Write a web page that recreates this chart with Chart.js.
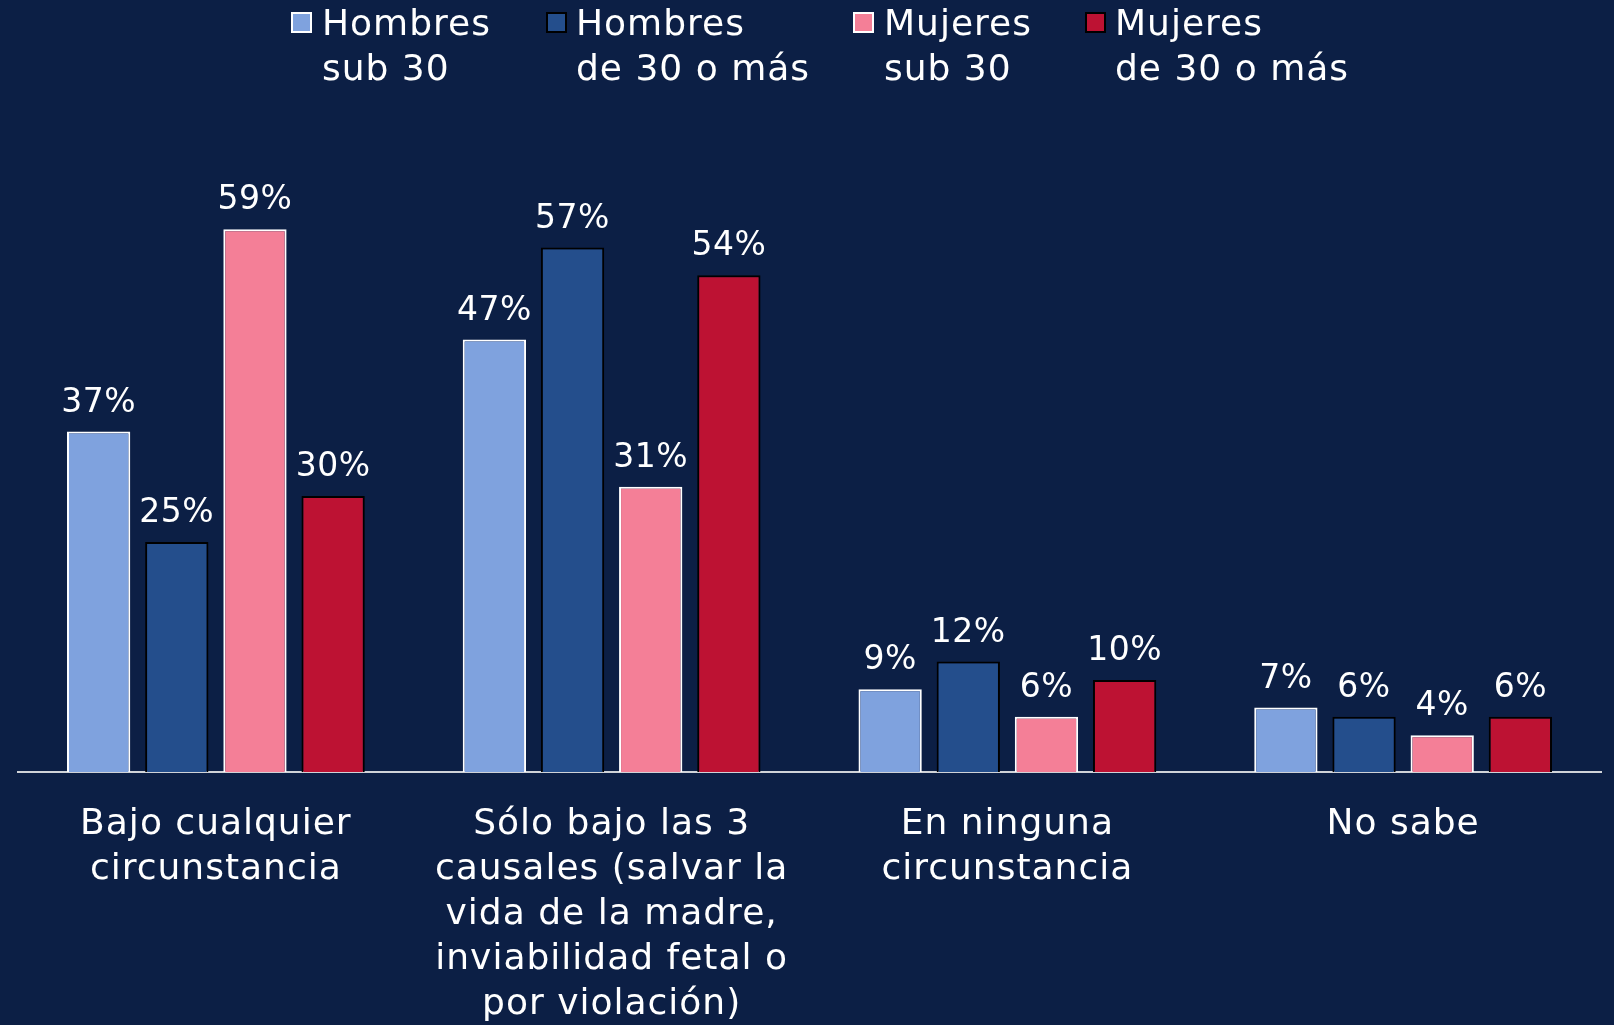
<!DOCTYPE html>
<html><head><meta charset="utf-8">
<script src="https://cdn.jsdelivr.net/npm/chart.js@4/dist/chart.umd.min.js"></script>
<style>
html,body{margin:0;padding:0;background:#0c1f45;width:1614px;height:1025px;overflow:hidden;}
#wrap{position:relative;width:1614px;height:1025px;}
canvas{position:absolute;left:0;top:0;}
.lg{position:absolute;top:0;color:#fff;font-family:"DejaVu Sans",sans-serif;font-size:36px;line-height:45px;white-space:nowrap;letter-spacing:1px;}
.sq{position:absolute;top:12px;width:17px;height:17px;border:2px solid #fff;}
</style></head>
<body><div id="wrap"><canvas id="c" width="1614" height="1025"></canvas></div>
<script>
const categories = [
  ["Bajo cualquier","circunstancia"],
  ["Sólo bajo las 3","causales (salvar la","vida de la madre,","inviabilidad fetal o","por violación)"],
  ["En ninguna","circunstancia"],
  ["No sabe"]
];
const seriesNames = [["Hombres","sub 30"],["Hombres","de 30 o más"],["Mujeres","sub 30"],["Mujeres","de 30 o más"]];
const hombresSub30 = [37, 47, 9, 7];
const hombres30Mas = [25, 57, 12, 6];
const mujeresSub30 = [59, 31, 6, 4];
const mujeres30Mas = [30, 54, 10, 6];

const fills = ["#7fa2de","#244e8c","#f47f97","#bd1233"];
const borders = ["#ffffff","#000000","#ffffff","#000000"];
const seriesData = [hombresSub30, hombres30Mas, mujeresSub30, mujeres30Mas];

// HTML legend
const legendSquareX = [291, 546, 853, 1085];
const legendTextX = [322, 576, 884, 1115];
const wrap = document.getElementById('wrap');
seriesNames.forEach((n,i)=>{
  const sq = document.createElement('div');
  sq.className='sq'; sq.style.left=legendSquareX[i]+'px';
  sq.style.background=fills[i]; sq.style.borderColor=borders[i];
  wrap.appendChild(sq);
  const t = document.createElement('div');
  t.className='lg'; t.style.left=legendTextX[i]+'px';
  t.innerHTML = n.join('<br>');
  wrap.appendChild(t);
});

const spacing = {
  id:'spacing',
  beforeDraw(chart){ chart.ctx.letterSpacing = '1px'; }
};

const valueLabels = {
  id:'valueLabels',
  afterDatasetsDraw(chart){
    const ctx = chart.ctx;
    ctx.save();
    ctx.letterSpacing = '0.5px';
    ctx.font = '33px "DejaVu Sans", sans-serif';
    ctx.fillStyle = '#ffffff';
    ctx.textAlign = 'center';
    ctx.textBaseline = 'alphabetic';
    chart.data.datasets.forEach((ds,di)=>{
      chart.getDatasetMeta(di).data.forEach((bar,i)=>{
        ctx.fillText(ds.data[i]+'%', bar.x, bar.y - 20);
      });
    });
    ctx.restore();
  }
};

new Chart(document.getElementById('c'), {
  type:'bar',
  data:{
    labels: categories,
    datasets: seriesNames.map((n,i)=>({
      label: n.join(' '),
      data: seriesData[i],
      backgroundColor: fills[i],
      borderColor: borders[i],
      borderWidth: 2,
      categoryPercentage: 0.79,
      barPercentage: 0.81
    }))
  },
  options:{
    responsive:false,
    animation:false,
    layout:{padding:{top:174,left:18,right:13,bottom:0}},
    plugins:{legend:{display:false},tooltip:{enabled:false}},
    scales:{
      x:{
        grid:{display:false},
        border:{display:true,color:'#d0d3d8',width:2},
        ticks:{color:'#ffffff',font:{family:'"DejaVu Sans", sans-serif',size:36,lineHeight:1.25},padding:22,maxRotation:0,autoSkip:false},
        afterFit(scale){ scale.height = 253; }
      },
      y:{display:false,min:0,max:65}
    }
  },
  plugins:[spacing, valueLabels]
});
</script></body></html>
